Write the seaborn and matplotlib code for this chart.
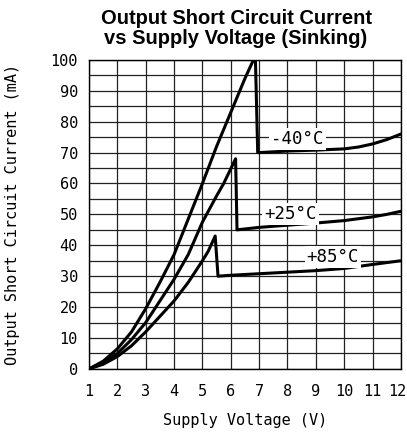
import pandas as pd
import matplotlib.pyplot as plt
import matplotlib.transforms as mtransforms
import seaborn as sns

# Curve data (supply voltage V, current mA)
v_m40 = [1, 1.5, 2, 2.5, 3, 3.5, 4, 4.5, 5, 5.5, 6, 6.5, 6.8, 6.87, 6.95, 7, 8, 9, 10, 10.5, 11, 11.5, 12]
i_m40 = [0, 2.5, 6.5, 12, 19.5, 28, 37, 48.5, 60, 72, 83, 94, 100, 100, 70, 70, 70.5, 70.8, 71.2, 71.8, 72.8, 74.2, 76]

v_p25 = [1, 1.5, 2, 2.5, 3, 3.5, 4, 4.5, 5, 5.5, 5.75, 6.17, 6.22, 7, 8, 9, 10, 11, 11.5, 12]
i_p25 = [0, 2, 5, 9.5, 15, 22, 29, 37, 47.5, 56, 60, 68, 45, 45.8, 46.5, 47.2, 48, 49.2, 50, 51]

v_p85 = [1, 1.5, 2, 2.5, 3, 3.5, 4, 4.5, 5, 5.2, 5.45, 5.55, 6, 7, 8, 9, 10, 11, 12]
i_p85 = [0, 1.5, 4, 7.5, 12, 17, 22, 28, 35, 38, 43, 30, 30.3, 30.8, 31.3, 31.8, 32.5, 33.8, 35]

labels = ["-40°C", "+25°C", "+85°C"]
label_x = [8.35, 8.1, 9.6]
label_y = [74.5, 50, 36.3]

x_ticks = list(range(1, 13))
y_ticks = list(range(0, 101, 10))


def build_frame():
    parts = []
    for name, v, i in zip(labels, [v_m40, v_p25, v_p85], [i_m40, i_p25, i_p85]):
        parts.append(pd.DataFrame({"voltage": v, "current": i, "temp": name}))
    return pd.concat(parts, ignore_index=True)


def main():
    sns.set_style("white")
    plt.rcParams['font.family'] = ['DejaVu Sans Mono', 'DejaVu Sans']
    plt.rcParams['text.color'] = 'black'
    plt.rcParams['axes.labelcolor'] = 'black'
    plt.rcParams['xtick.color'] = 'black'
    plt.rcParams['ytick.color'] = 'black'

    data = build_frame()
    fig = plt.figure(figsize=(4.07, 4.34), dpi=100)
    ax = fig.add_axes([0.2187, 0.15, 0.7663, 0.712])

    sns.lineplot(data=data, x="voltage", y="current", hue="temp", units="temp",
                 estimator=None, sort=False, palette=["black"] * 3,
                 linewidth=2.2, legend=False, ax=ax, zorder=3)

    ax.set_xlim(1, 12)
    ax.set_ylim(0, 100)
    ax.set_xticks(x_ticks)
    ax.set_yticks(y_ticks)
    ax.set_yticks(range(0, 101, 5), minor=True)
    ax.grid(which="both", color="#222222", linewidth=0.9)
    ax.tick_params(axis="both", which="both", length=0, labelsize=11)
    ax.tick_params(axis="x", pad=11)
    ax.tick_params(axis="y", pad=8)
    for s in ax.spines.values():
        s.set_color("black")
        s.set_linewidth(1.0)

    # nudge the last x label so it stays inside the figure
    last = ax.get_xticklabels()[-1]
    last.set_transform(last.get_transform() + mtransforms.ScaledTranslation(-4 / 100, 0, fig.dpi_scale_trans))

    for name, lx, ly in zip(labels, label_x, label_y):
        ax.text(lx, ly, name, ha="center", va="center", fontsize=12.5, zorder=4,
                bbox=dict(facecolor="white", edgecolor="none", pad=1.5))

    ax.set_xlabel("Supply Voltage (V)", fontsize=11, labelpad=10)
    ax.set_ylabel("Output Short Circuit Current (mA)", fontsize=11, labelpad=22)
    fig.text(0.58, 0.935, "Output Short Circuit Current\nvs Supply Voltage (Sinking)",
             ha="center", va="center", fontsize=14.5, fontweight="bold",
             family="Liberation Sans", linespacing=1.05)

    fig.savefig("out.png", dpi=100)


if __name__ == "__main__":
    main()
